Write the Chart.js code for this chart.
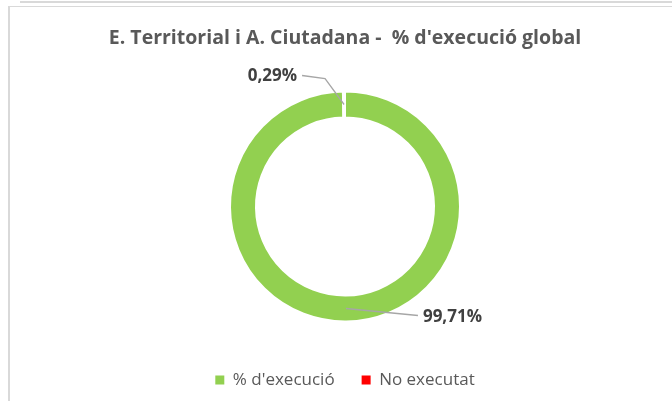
<!DOCTYPE html>
<html>
<head>
<meta charset="utf-8">
<script src="https://cdn.jsdelivr.net/npm/chart.js@4.4.0/dist/chart.umd.min.js"></script>
<style>
  html, body { margin: 0; padding: 0; background: #fff; }
  #wrap { position: relative; width: 672px; height: 401px; overflow: hidden; }
  canvas { position: absolute; left: 0; top: 0; }
  .ln { position: absolute; background: #d9d9d9; pointer-events: none; }
</style>
</head>
<body>
<div id="wrap">
  <canvas id="c" width="672" height="401"></canvas>
  <div class="ln" style="left:20px; top:1px; width:652px; height:2px;"></div>
  <div class="ln" style="left:8px; top:6px; width:664px; height:1px;"></div>
  <div class="ln" style="left:8px; top:6px; width:2px; height:395px;"></div>
</div>
<script>
const titleText = "E. Territorial i A. Ciutadana -  % d'execució global";
const categories = ["% d'execució", "No executat"];
const values = [99.71, 0.29];
const valueLabels = ["99,71%", "0,29%"];
const sliceColors = ["#92d050", "#ffffff"];
const legendColors = ["#92d050", "#ff0000"];

const labelPlugin = {
  id: 'leaderLabels',
  afterDatasetsDraw(chart) {
    const ctx = chart.ctx;
    const meta = chart.getDatasetMeta(0);
    ctx.save();
    ctx.font = "bold 17px 'Open Sans'";
    ctx.fillStyle = "#404040";
    ctx.strokeStyle = "#a6a6a6";
    ctx.lineWidth = 1.3;
    ctx.textBaseline = "middle";
    meta.data.forEach((arc, i) => {
      const p = arc.getProps(['x','y','startAngle','endAngle','innerRadius','outerRadius'], true);
      const mid = (p.startAngle + p.endAngle) / 2;
      const r = (p.innerRadius + p.outerRadius) / 2;
      const sx = p.x + Math.cos(mid) * r;
      const sy = p.y + Math.sin(mid) * r;
      ctx.beginPath();
      if (i === 0) {
        const ex = sx + 72, ey = sy + 7;
        ctx.moveTo(sx, sy); ctx.lineTo(ex, ey); ctx.stroke();
        ctx.textAlign = "left";
        ctx.fillText(valueLabels[i], ex + 5, ey + 2);
      } else {
        const bx = sx - 19, by = sy - 26;
        const ex = bx - 23, ey = by - 3;
        ctx.moveTo(sx, sy); ctx.lineTo(bx, by); ctx.lineTo(ex, ey); ctx.stroke();
        ctx.textAlign = "right";
        ctx.fillText(valueLabels[i], ex - 5, ey + 1);
      }
    });
    ctx.restore();
  }
};

new Chart(document.getElementById('c'), {
  type: 'doughnut',
  data: {
    labels: categories,
    datasets: [{
      data: values,
      backgroundColor: sliceColors,
      borderColor: '#ffffff',
      borderWidth: 2,
      radius: 115,
      cutout: '77.4%'
    }]
  },
  options: {
    responsive: false,
    animation: false,
    events: [],
    layout: { padding: { left: 18, right: 0, top: 0, bottom: 2.5 } },
    plugins: {
      tooltip: { enabled: false },
      title: {
        display: true,
        text: titleText,
        color: '#595959',
        font: { family: "'Open Sans'", size: 19.5, weight: 'bold' },
        padding: { top: 26.5, bottom: 18.6 }
      },
      legend: {
        display: true,
        position: 'bottom',
        labels: {
          color: '#595959',
          font: { family: "'Open Sans'", size: 17 },
          boxWidth: 9,
          boxHeight: 9,
          padding: 27,
          generateLabels(chart) {
            return categories.map((c, i) => ({
              text: c,
              fillStyle: legendColors[i],
              strokeStyle: legendColors[i],
              lineWidth: 0,
              fontColor: '#595959',
              hidden: false,
              index: i
            }));
          }
        }
      }
    }
  },
  plugins: [labelPlugin]
});
</script>
</body>
</html>
